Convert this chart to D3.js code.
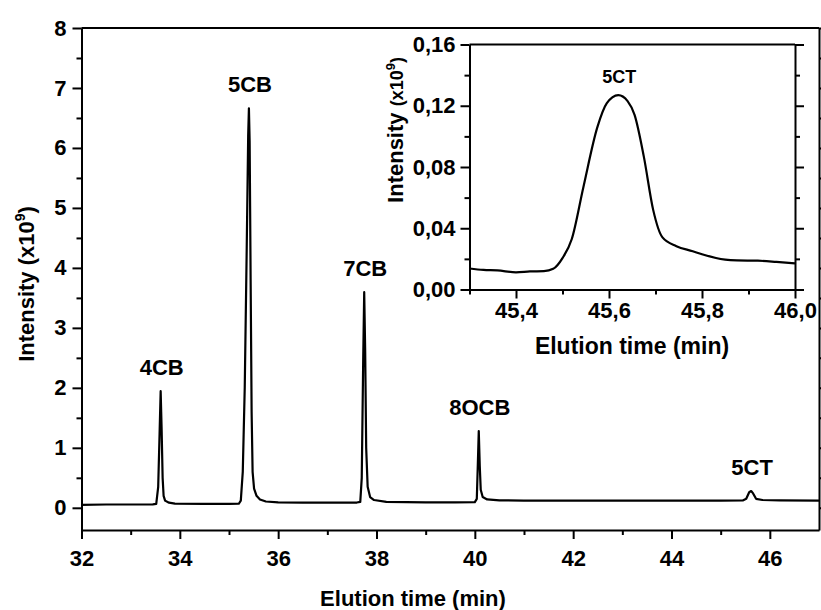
<!DOCTYPE html>
<html><head><meta charset="utf-8">
<script src="https://cdn.jsdelivr.net/npm/d3@7"></script>
<style>
body{margin:0;background:#fff}
text{font-family:Arial,"Liberation Sans",sans-serif;font-weight:bold;fill:#000}
</style>
</head><body><svg id="c" width="821" height="610"></svg>
<script>
// ---- main chromatogram ----
const mainTime = [32.00,32.50,33.00,33.45,33.52,33.56,33.59,33.61,33.63,33.65,33.67,33.70,33.78,33.90,34.50,35.00,
  35.20,35.24,35.28,35.32,35.36,35.39,35.405,35.42,35.44,35.46,35.48,35.51,35.56,35.63,35.75,36.00,36.50,37.00,
  37.60,37.67,37.70,37.73,37.75,37.77,37.79,37.82,37.87,37.95,38.20,39.00,39.60,40.00,40.04,40.06,40.08,40.10,
  40.12,40.16,40.25,40.50,41.00,42.00,43.00,44.00,45.00,45.45,45.52,45.58,45.62,45.66,45.72,45.85,46.20,47.00];
const mainIntensity = [0.050,0.055,0.055,0.058,0.065,0.35,1.30,1.945,1.30,0.50,0.20,0.12,0.085,0.07,0.065,0.065,
  0.068,0.12,0.6,2.0,4.3,6.2,6.66,6.1,3.8,1.6,0.6,0.32,0.2,0.14,0.105,0.09,0.085,0.085,
  0.088,0.10,0.5,2.5,3.595,2.6,1.0,0.35,0.18,0.13,0.10,0.09,0.09,0.095,0.15,0.7,1.28,0.7,
  0.3,0.18,0.14,0.125,0.12,0.12,0.12,0.12,0.12,0.122,0.15,0.26,0.28,0.24,0.15,0.13,0.125,0.12];
const peakNames = ["4CB","5CB","7CB","8OCB","5CT"];
const peakTimes = [33.61,35.405,37.75,40.08,45.62];
const peakHeights = [1.945,6.66,3.595,1.28,0.28];
const mainXTicks = [32,34,36,38,40,42,44,46];
const mainYTicks = [0,1,2,3,4,5,6,7,8];

// ---- inset (5CT) ----
const insetTime = [45.30,45.33,45.36,45.40,45.43,45.46,45.48,45.50,45.52,45.545,45.575,45.595,45.62,45.64,45.655,
  45.675,45.695,45.715,45.745,45.78,45.80,45.85,45.875,45.92,45.96,46.00];
const insetIntensity = [0.0137,0.0128,0.0125,0.0112,0.0118,0.0120,0.0135,0.0205,0.033,0.067,0.106,0.1215,0.1269,0.123,0.114,
  0.0866,0.052,0.034,0.0283,0.025,0.023,0.0195,0.019,0.0188,0.018,0.017];
const insetXTicks = [45.4,45.6,45.8,46.0];
const insetYTicks = [0,0.04,0.08,0.12,0.16];
const insetPeakLabel = "5CT";

const svg = d3.select("#c");
const fmt2 = d => d.toFixed(2).replace(".", ",");
const fmt1 = d => d.toFixed(1).replace(".", ",");

// main scales
const M = {l:81.5, r:819, t:28, b:530};
const x = d3.scaleLinear().domain([32,47]).range([M.l,M.r]);
const y = d3.scaleLinear().domain([-0.37,8]).range([M.b,M.t]);

function styleAxis(g){
  g.select(".domain").attr("stroke","#000").attr("stroke-width",2);
  g.selectAll(".tick line").attr("stroke","#000").attr("stroke-width",2);
  g.selectAll(".tick text").style("font-size","22px").style("font-weight","bold");
}
function minorStyle(g){
  g.select(".domain").remove();
  g.selectAll("line").attr("stroke","#000").attr("stroke-width",2);
}

// main line
const pts = mainTime.map((t,i)=>[t,mainIntensity[i]]);
svg.append("path").datum(pts)
  .attr("fill","none").attr("stroke","#000").attr("stroke-width",2.2).attr("stroke-linejoin","round")
  .attr("d", d3.line().x(d=>x(d[0])).y(d=>y(d[1])));

// minor ticks main
const xMinor = d3.range(33,47,2);
const yMinor = d3.range(0.5,8,1);
svg.append("g").attr("transform",`translate(0,${M.b})`)
  .call(d3.axisBottom(x).tickValues(xMinor).tickSize(5).tickFormat("")).call(minorStyle);
svg.append("g").attr("transform",`translate(${M.l},0)`)
  .call(d3.axisLeft(y).tickValues(yMinor).tickSize(5).tickFormat("")).call(minorStyle);
svg.append("g").attr("transform",`translate(${M.r},0)`)
  .call(d3.axisRight(y).tickValues(yMinor).tickSize(5).tickFormat("")).call(minorStyle);

// main axes
svg.append("g").attr("transform",`translate(0,${M.b})`)
  .call(d3.axisBottom(x).tickValues(mainXTicks).tickSize(9).tickSizeOuter(0).tickPadding(11).tickFormat(d3.format("d")))
  .call(styleAxis);
svg.append("g").attr("transform",`translate(${M.l},0)`)
  .call(d3.axisLeft(y).tickValues(mainYTicks).tickSize(9).tickSizeOuter(0).tickPadding(6).tickFormat(d3.format("d")))
  .call(styleAxis);
svg.append("g").attr("transform",`translate(${M.r},0)`)
  .call(d3.axisRight(y).tickValues(mainYTicks).tickSize(9).tickSizeOuter(0).tickFormat(""))
  .call(styleAxis);
svg.append("line").attr("x1",M.l).attr("x2",M.r).attr("y1",M.t).attr("y2",M.t).attr("stroke","#000").attr("stroke-width",2);

// peak labels
peakNames.forEach((n,i)=>{
  svg.append("text").attr("x",x(peakTimes[i])+1).attr("y",y(peakHeights[i])-16)
    .attr("text-anchor","middle").style("font-size","22px").text(n);
});

// main titles
svg.append("text").attr("x",413).attr("y",606).attr("text-anchor","middle").style("font-size","22px").text("Elution time (min)");
const yt = svg.append("text").attr("transform","translate(34,284) rotate(-90)").attr("text-anchor","middle").style("font-size","22px");
yt.append("tspan").text("Intensity (x10");
yt.append("tspan").attr("dy",-9).style("font-size","14px").text("9");
yt.append("tspan").attr("dy",9).text(")");

// ---- inset ----
const I = {l:469.5, r:795, t:44.5, b:289.5};
const xi = d3.scaleLinear().domain([45.3,46.0]).range([I.l,I.r]);
const yi = d3.scaleLinear().domain([0,0.16]).range([I.b,I.t]);
svg.append("rect").attr("x",I.l).attr("y",I.t).attr("width",I.r-I.l).attr("height",I.b-I.t).attr("fill","#fff");

const ipts = insetTime.map((t,i)=>[t,insetIntensity[i]]);
svg.append("path").datum(ipts)
  .attr("fill","none").attr("stroke","#000").attr("stroke-width",2.2)
  .attr("d", d3.line().curve(d3.curveMonotoneX).x(d=>xi(d[0])).y(d=>yi(d[1])));

const ixMinor = [45.3,45.5,45.7,45.9];
const iyMinor = [0.02,0.06,0.10,0.14];
svg.append("g").attr("transform",`translate(0,${I.b})`)
  .call(d3.axisBottom(xi).tickValues(ixMinor).tickSize(5).tickFormat("")).call(minorStyle);
svg.append("g").attr("transform",`translate(${I.l},0)`)
  .call(d3.axisLeft(yi).tickValues(iyMinor).tickSize(5).tickFormat("")).call(minorStyle);
svg.append("g").attr("transform",`translate(${I.r},0)`)
  .call(d3.axisRight(yi).tickValues(iyMinor).tickSize(5).tickFormat("")).call(minorStyle);

svg.append("g").attr("transform",`translate(0,${I.b})`)
  .call(d3.axisBottom(xi).tickValues(insetXTicks).tickSize(9).tickSizeOuter(0).tickPadding(4).tickFormat(fmt1))
  .call(styleAxis);
svg.append("g").attr("transform",`translate(${I.l},0)`)
  .call(d3.axisLeft(yi).tickValues(insetYTicks).tickSize(9).tickSizeOuter(0).tickPadding(5).tickFormat(fmt2))
  .call(styleAxis);
svg.append("g").attr("transform",`translate(${I.r},0)`)
  .call(d3.axisRight(yi).tickValues(insetYTicks).tickSize(9).tickSizeOuter(0).tickFormat(""))
  .call(styleAxis);
svg.append("line").attr("x1",I.l).attr("x2",I.r).attr("y1",I.t).attr("y2",I.t).attr("stroke","#000").attr("stroke-width",2);

svg.append("text").attr("x",xi(45.62)+1).attr("y",83).attr("text-anchor","middle").style("font-size","18px").text(insetPeakLabel);
svg.append("text").attr("x",632).attr("y",354).attr("text-anchor","middle").style("font-size","23px").text("Elution time (min)");
const iyt = svg.append("text").attr("transform","translate(403,130) rotate(-90)").attr("text-anchor","middle").style("font-size","22px");
iyt.append("tspan").text("Intensity ");
iyt.append("tspan").style("font-size","18px").text("(x10");
iyt.append("tspan").attr("dy",-8).style("font-size","13px").text("9");
iyt.append("tspan").attr("dy",8).style("font-size","18px").text(")");
</script></body></html>
